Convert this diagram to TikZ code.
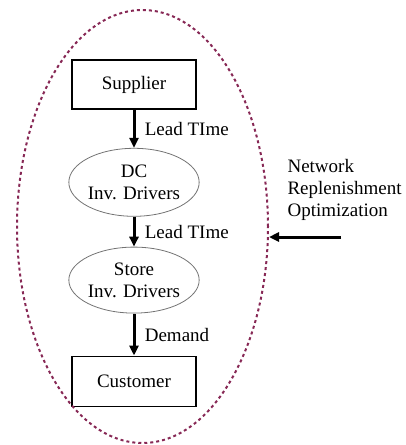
\documentclass[tikz,border=0pt]{standalone}
\usepackage{fontspec}
\setmainfont{Liberation Serif}
\usetikzlibrary{positioning,shapes.geometric,arrows.meta}

\definecolor{loopred}{RGB}{135,40,85}

\begin{document}
\begin{tikzpicture}
		[
		x = 1pt, y = -1pt,
		font = \fontsize{19}{22}\selectfont,
		level/.style  = {draw, line width=1.8pt, minimum width=124pt, minimum height=49pt},
		driver/.style = {draw=black!55, ellipse, line width=0.8pt, inner sep=0pt,
		                 minimum width=124pt, minimum height=68pt, align=center},
		flow/.style   = {-{Triangle[length=10pt,width=9pt]}, line width=3pt}
		]
		\useasboundingbox (0,0) rectangle (406,445);
		% supply chain
		\node [level] (supplier) at (134,84.5) {Supplier};
		\node [driver, below = 38pt of supplier] (dc) {DC\\Inv. Drivers};
		\node [driver, below = 30pt of dc, minimum height=66pt] (store) {Store\\Inv. Drivers};
		\node [level, below = 42pt of store, minimum height=50pt] (customer) {Customer};
		\path
		(supplier) edge [flow] node [right = 6pt] {Lead TIme} (dc)
		(dc) edge [flow] node [right = 6pt] {Lead TIme} (store)
		(store) edge [flow] node [right = 6pt] {Demand} (customer);
		% optimization scope
		\node [ellipse, draw=loopred, line width=2pt, dash pattern=on 3pt off 3pt,
		minimum width=251pt, minimum height=433pt] (scope) at (142.5,226.5) {};
		\node [anchor=west, align=left] (network) at (284,190)
		{Network\\Replenishment\\Optimization};
		\coordinate (pusher) at (341,237);
		\draw [flow] (pusher) -- (pusher -| scope.east);
\end{tikzpicture}
\end{document}
